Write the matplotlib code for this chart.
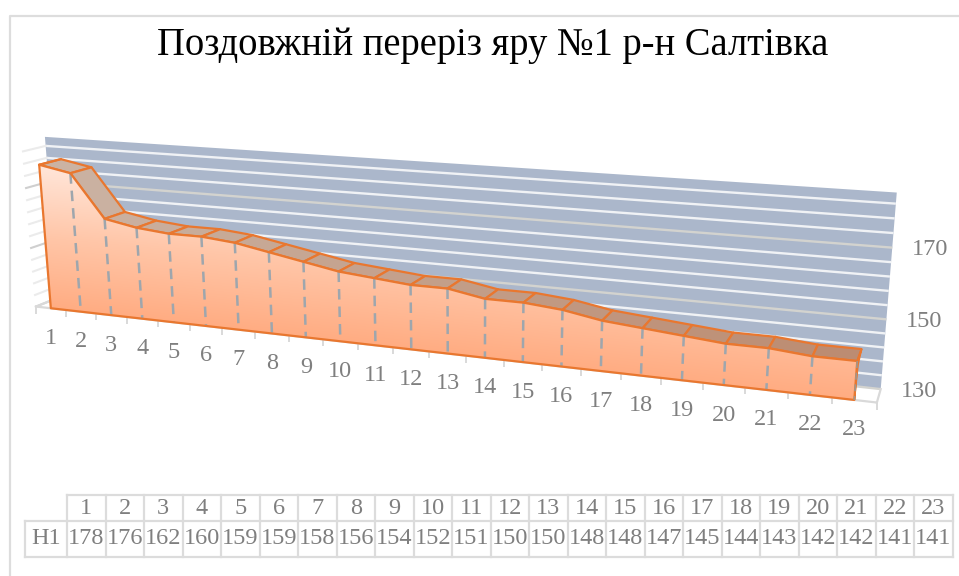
import numpy as np
import matplotlib
matplotlib.use("Agg")
import matplotlib.pyplot as plt
from matplotlib.patches import Polygon
from matplotlib.colors import LinearSegmentedColormap

plt.rcParams['font.family'] = ['Liberation Serif', 'DejaVu Serif']

# ---- data ----
title = "Поздовжній переріз яру №1 р-н Салтівка"
series_name = "Н1"
categories = list(range(1, 24))
h1 = [178, 176, 162, 160, 159, 159, 158, 156, 154, 152, 151, 150,
      150, 148, 148, 147, 145, 144, 143, 142, 142, 141, 141]
axis_labels = [130, 150, 170]
axis_min, axis_max, grid_step = 130, 185, 4

W, H = 959, 576
fig = plt.figure(figsize=(W / 100, H / 100), dpi=100)
ax = fig.add_axes([0, 0, 1, 1])
ax.set_xlim(0, W)
ax.set_ylim(H, 0)
ax.axis('off')

# ---- camera of the 3D chart: (category, value, depth) -> picture ----
calib = [
    (0.5, 130, 0, 37, 307), (23.5, 130, 0, 876, 403), (1, 130, 0, 50, 308),
    (23, 130, 0, 855, 400), (1, 178, 0, 39, 165), (23, 141, 0, 857, 361),
    (12, 150, 0, 411, 285), (7, 158, 0, 234, 243), (3, 162, 0, 105, 218),
    (18, 144, 0, 643, 328),
    (0.5, 185, 1, 45, 137), (23.5, 185, 1, 896, 193), (23.5, 130, 1, 880, 389),
    (23.5, 150, 1, 887, 320), (23.5, 170, 1, 893, 247), (1, 178, 1, 62, 159),
    (2, 176, 1, 92, 167), (3, 162, 1, 125, 212), (23, 141, 1, 862, 348),
]
A = []
for c, v, d, u, t in calib:
    p = [c, v, d, 1]
    A.append(p + [0, 0, 0, 0] + [-u * q for q in p])
    A.append([0, 0, 0, 0] + p + [-t * q for q in p])
A = np.array(A, float)
scale = np.abs(A).max(axis=0)
_, _, Vt = np.linalg.svd(A / scale)
P = (Vt[-1] / scale).reshape(3, 4)


def proj(c, v, d=0.0):
    c, v, d = np.broadcast_arrays(np.asarray(c, float), np.asarray(v, float), np.asarray(d, float))
    h = P @ np.vstack([c.ravel(), v.ravel(), d.ravel(), np.ones(c.size)])
    return h[0] / h[2], h[1] / h[2]


def quad(c0, v0, d0, c1, v1, d1, **kw):
    xs, ys = proj([c0, c1], [v0, v1], [d0, d1])
    return ax.plot(xs, ys, **kw)


cats = np.array(categories, float)
vals = np.array(h1, float)
edge = '#E9772F'
tick_c = '#D9D9D9'
text_c = '#7F7F7F'

# chart border
ax.plot([9.5, 9.5, W + 5], [H + 5, 15.5, 15.5], color='#DDDDDD', lw=1.6, zorder=1)

# back wall
cl = [0.5, 23.5, 23.5, 0.5]
xs, ys = proj(cl, [axis_max, axis_max, axis_min, axis_min], 1)
ax.add_patch(Polygon(np.c_[xs, ys], fc='#ABB7CB', ec='none', zorder=2))

# gridlines on the wall and on the side wall
for g in np.arange(axis_min, axis_max, grid_step):
    major = (g - axis_min) % 20 == 0
    col = '#D3D3CF' if major else '#F0F2F5'
    quad(0.5, g, 1, 23.5, g, 1, color=col, lw=1.7, zorder=3, solid_capstyle='butt')
    quad(0.5, g, 0, 0.5, g, 1, color='#CFCFCF' if major else '#EBEBEB', lw=1.5, zorder=3)

# floor
quad(0.5, axis_min, 0, 23.5, axis_min, 0, color=tick_c, lw=1.6, zorder=3)
quad(0.5, axis_min, 0, 0.5, axis_min, 1, color=tick_c, lw=1.6, zorder=3)
quad(23.5, axis_min, 0, 23.5, axis_min, 1, color=tick_c, lw=1.6, zorder=3)
for t in np.arange(0.5, 24):
    x, y = proj(t, axis_min, 0)
    ax.plot([x[0], x[0]], [y[0], y[0] + 6], color=tick_c, lw=1.4, zorder=3)

# top of the area: one band per segment
depth = 0.97
c_left = np.array([0xCB, 0xB3, 0xA3]) / 255
c_right = np.array([0xBC, 0x8C, 0x72]) / 255
for i in range(len(cats) - 1):
    px, py = proj([cats[i], cats[i + 1], cats[i + 1], cats[i]],
                  [vals[i], vals[i + 1], vals[i + 1], vals[i]],
                  [0, 0, depth, depth])
    f = i / (len(cats) - 2)
    ax.add_patch(Polygon(np.c_[px, py], fc=c_left + (c_right - c_left) * f,
                         ec=edge, lw=1.6, joinstyle='round', zorder=4))
# right-hand cap and left edge of the solid
px, py = proj([23, 23, 23, 23], [axis_min, 141, 141, 139], [0, 0, depth, 0.3])
ax.add_patch(Polygon(np.c_[px, py], fc=edge, ec=edge, lw=1.2, zorder=4))
quad(1, 178, 0, 1, 178, depth, color=edge, lw=1.5, zorder=5)

# front face with value gradient
fx, fy = proj(np.r_[cats, cats[-1], cats[0]], np.r_[vals, axis_min, axis_min], 0)
face = Polygon(np.c_[fx, fy], fc='none', ec=edge, lw=1.6, joinstyle='round', zorder=7)
Hinv = np.linalg.inv(P[:, [0, 1, 3]])
gx, gy = np.meshgrid(np.arange(0, W), np.arange(0, H))
g = np.stack([gx.ravel() + 0.5, gy.ravel() + 0.5, np.ones(gx.size)])
q = Hinv @ g
val_img = (q[1] / q[2]).reshape(gx.shape)
cmap = LinearSegmentedColormap.from_list('face', ['#FFAC82', '#FFC6A8', '#FFE6D9'])
im = ax.imshow((val_img - axis_min) / (178 - axis_min), cmap=cmap, vmin=0, vmax=1,
               extent=(0, W, H, 0), origin='upper', aspect='auto', zorder=5, interpolation='bilinear')
clip = Polygon(np.c_[fx, fy], transform=ax.transData, fc='none', ec='none')
ax.add_patch(clip)
im.set_clip_path(clip)
ax.add_patch(face)
ax.set_xlim(0, W)
ax.set_ylim(H, 0)

# drop lines
for c, v in zip(cats[1:-1], vals[1:-1]):
    x, y = proj([c, c], [v, axis_min], 0)
    ax.plot(x, y, color='#9EA6AD', lw=1.8, dashes=(4.2, 2.8), zorder=6)
x, y = proj([23, 23], [141, axis_min], 0)
ax.plot(x, y, color='#A0968C', lw=1.2, dashes=(4.2, 2.8), zorder=8)

# category labels
for c in categories:
    x, y = proj(c, axis_min, 0)
    ax.text(x[0], y[0] + 30, str(c), ha='center', va='center', fontsize=17.5, color=text_c, zorder=9)

# value labels
for v in axis_labels:
    x, y = proj(23.5, v, 1)
    ax.text(x[0] + 38, y[0] + 2, str(v), ha='center', va='center', fontsize=17.5, color=text_c, zorder=9)

# title
ax.text(493, 45, title, ha='center', va='center', fontsize=27.75, color='black', zorder=9)

# data table
tx0, tw, ty0, ty1, ty2, lx0 = 67, 38.5, 495, 521, 557, 25
lc = '#DCDCDC'
n = len(categories)
ax.plot([tx0, tx0 + n * tw], [ty0, ty0], color=lc, lw=1.6, zorder=3)
ax.plot([lx0, tx0 + n * tw], [ty1, ty1], color=lc, lw=1.6, zorder=3)
ax.plot([lx0, tx0 + n * tw], [ty2, ty2], color=lc, lw=1.6, zorder=3)
ax.plot([lx0, lx0], [ty1, ty2], color=lc, lw=1.6, zorder=3)
for i in range(n + 1):
    ax.plot([tx0 + i * tw] * 2, [ty0, ty2], color=lc, lw=1.6, zorder=3)
for i, (c, v) in enumerate(zip(categories, h1)):
    xc = tx0 + (i + 0.5) * tw
    ax.text(xc, (ty0 + ty1) / 2 + 0.5, str(c), ha='center', va='center', fontsize=17.5, color=text_c)
    ax.text(xc, (ty1 + ty2) / 2, str(v), ha='center', va='center', fontsize=17.5, color=text_c)
ax.text((lx0 + tx0) / 2, (ty1 + ty2) / 2, series_name, ha='center', va='center', fontsize=17.5, color=text_c)

fig.savefig('out.png', dpi=100)
